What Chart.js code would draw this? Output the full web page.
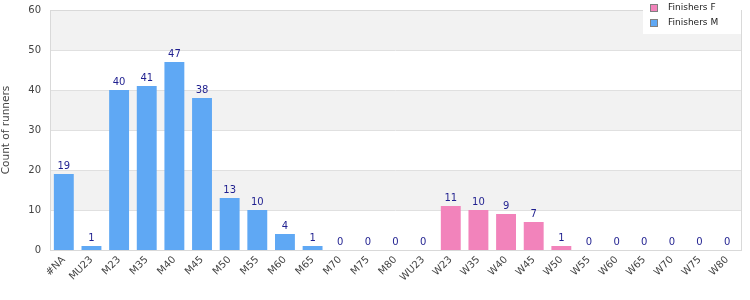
<!DOCTYPE html>
<html>
<head>
<meta charset="utf-8">
<script src="https://cdn.jsdelivr.net/npm/chart.js@4"></script>
<style>
  html, body { margin: 0; padding: 0; background: #fff; }
  #wrap { width: 750px; height: 300px; }
</style>
</head>
<body>
<div id="wrap"><canvas id="chart" width="750" height="300"></canvas></div>
<script>
// Data
const categories = ['#NA', 'MU23', 'M23', 'M35', 'M40', 'M45', 'M50', 'M55', 'M60', 'M65', 'M70', 'M75', 'M80',
    'WU23', 'W23', 'W35', 'W40', 'W45', 'W50', 'W55', 'W60', 'W65', 'W70', 'W75', 'W80'];
const finishersM = [19, 1, 40, 41, 47, 38, 13, 10, 4, 1, 0, 0, 0, 0,
    null, null, null, null, null, null, null, null, null, null, null];
const finishersF = [null, null, null, null, null, null, null, null, null, null, null, null, null, null,
    11, 10, 9, 7, 1, 0, 0, 0, 0, 0, 0];
const yTicks = [0, 10, 20, 30, 40, 50, 60];

const FONT = 'DejaVu Sans';
const BLUE = '#5fa8f4';
const PINK = '#f283bb';

// bands, border, value labels and the floating legend
const decor = {
    id: 'decor',
    beforeDatasetsDraw(chart) {
        const { ctx, chartArea: a, scales: { y } } = chart;
        ctx.save();
        ctx.fillStyle = '#f2f2f2';
        for (let v = 10; v < 60; v += 20) {
            const top = y.getPixelForValue(v + 10);
            const bot = y.getPixelForValue(v);
            ctx.fillRect(a.left, top, a.right - a.left, bot - top);
        }
        ctx.strokeStyle = '#e0e0e0';
        ctx.lineWidth = 1;
        yTicks.forEach(v => {
            const py = Math.round(y.getPixelForValue(v)) + 0.5;
            ctx.beginPath();
            ctx.moveTo(a.left, py);
            ctx.lineTo(a.right, py);
            ctx.stroke();
        });
        ctx.strokeStyle = '#d9d9d9';
        ctx.strokeRect(Math.round(a.left) + 0.5, Math.round(a.top) + 0.5,
            Math.round(a.right - a.left), Math.round(a.bottom - a.top));
        ctx.restore();
    },
    afterDatasetsDraw(chart) {
        const { ctx } = chart;
        ctx.save();
        ctx.font = '10px "' + FONT + '"';
        ctx.fillStyle = '#1f1f8f';
        ctx.textAlign = 'center';
        ctx.textBaseline = 'bottom';
        chart.data.datasets.forEach((ds, i) => {
            const meta = chart.getDatasetMeta(i);
            meta.data.forEach((bar, j) => {
                const v = ds.data[j];
                if (v === null) return;
                ctx.fillText(String(v), bar.x, bar.y - 3);
            });
        });

        // legend
        const lx = 643, ly = 0, lw = 98, lh = 34;
        ctx.fillStyle = '#fff';
        ctx.fillRect(lx, ly, lw, lh);
        const items = [['Finishers F', PINK], ['Finishers M', BLUE]];
        ctx.font = '9px "' + FONT + '"';
        ctx.textAlign = 'left';
        ctx.textBaseline = 'middle';
        items.forEach((it, k) => {
            const cy = 8 + k * 15;
            ctx.fillStyle = it[1];
            ctx.fillRect(650.5, cy - 3.5, 7, 7);
            ctx.strokeStyle = '#808080';
            ctx.strokeRect(650.5, cy - 3.5, 7, 7);
            ctx.fillStyle = '#222';
            ctx.fillText(it[0], 668, cy);
        });
        ctx.restore();
    }
};

new Chart(document.getElementById('chart'), {
    type: 'bar',
    data: {
        labels: categories,
        datasets: [
            { label: 'Finishers F', data: finishersF, backgroundColor: PINK },
            { label: 'Finishers M', data: finishersM, backgroundColor: BLUE }
        ]
    },
    options: {
        responsive: false,
        animation: false,
        layout: { padding: { top: 10, right: 9, left: 0, bottom: 0 } },
        datasets: { bar: { categoryPercentage: 1, barPercentage: 0.72, borderWidth: 0 } },
        plugins: {
            legend: { display: false },
            tooltip: { enabled: false }
        },
        scales: {
            x: {
                stacked: true,
                grid: { display: false, drawTicks: false },
                border: { display: false },
                ticks: {
                    color: '#444',
                    font: { family: FONT, size: 10 },
                    maxRotation: 45,
                    minRotation: 45,
                    autoSkip: false,
                    padding: 4
                },
                afterFit(scale) {
                    scale.height = 50;
                    scale.paddingLeft = 0;
                    scale.paddingRight = 0;
                }
            },
            y: {
                stacked: true,
                min: 0,
                max: 60,
                grid: { display: false, drawTicks: false },
                border: { display: false },
                ticks: {
                    stepSize: 10,
                    color: '#444',
                    font: { family: FONT, size: 10 },
                    padding: 9
                },
                title: {
                    display: true,
                    text: 'Count of runners',
                    color: '#444',
                    font: { family: FONT, size: 10.5 },
                    padding: 0
                },
                afterFit(scale) {
                    scale.width = 50;
                    scale.paddingTop = 0;
                    scale.paddingBottom = 0;
                }
            }
        }
    },
    plugins: [decor]
});
</script>
</body>
</html>
